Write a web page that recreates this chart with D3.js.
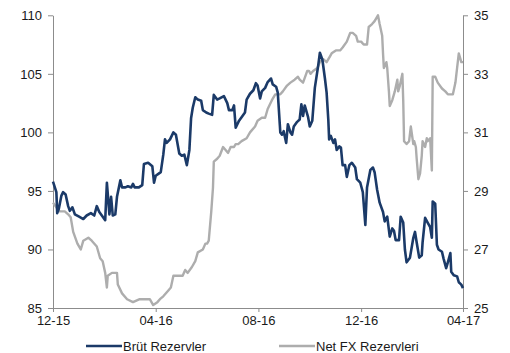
<!DOCTYPE html>
<html>
<head>
<meta charset="utf-8">
<script src="https://cdn.jsdelivr.net/npm/d3@7"></script>
<style>
  html, body { margin: 0; padding: 0; background: #fff; }
  svg { display: block; font-family: "Liberation Sans", Arial, sans-serif; }
</style>
</head>
<body>
<svg id="chart" width="510" height="353"></svg>
<script>
// Brüt rezervler (sol eksen, milyar $)
const brutDates = ["2015-12-01","2015-12-05","2015-12-06","2015-12-08","2015-12-11","2015-12-13","2015-12-16","2015-12-19","2015-12-21","2015-12-24","2015-12-27","2016-01-01","2016-01-06","2016-01-10","2016-01-15","2016-01-19","2016-01-22","2016-01-25","2016-01-28","2016-02-01","2016-02-03","2016-02-06","2016-02-08","2016-02-10","2016-02-13","2016-02-15","2016-02-19","2016-02-21","2016-02-25","2016-02-28","2016-03-03","2016-03-05","2016-03-07","2016-03-12","2016-03-16","2016-03-18","2016-03-23","2016-03-28","2016-03-30","2016-04-01","2016-04-05","2016-04-07","2016-04-10","2016-04-12","2016-04-14","2016-04-18","2016-04-22","2016-04-25","2016-04-29","2016-05-02","2016-05-05","2016-05-08","2016-05-11","2016-05-13","2016-05-15","2016-05-18","2016-05-21","2016-05-25","2016-05-27","2016-05-31","2016-06-03","2016-06-07","2016-06-09","2016-06-13","2016-06-16","2016-06-21","2016-06-25","2016-06-27","2016-07-01","2016-07-03","2016-07-05","2016-07-09","2016-07-12","2016-07-16","2016-07-18","2016-07-22","2016-07-26","2016-07-29","2016-07-31","2016-08-03","2016-08-05","2016-08-09","2016-08-12","2016-08-16","2016-08-18","2016-08-22","2016-08-24","2016-08-27","2016-08-29","2016-08-31","2016-09-03","2016-09-05","2016-09-08","2016-09-10","2016-09-12","2016-09-16","2016-09-19","2016-09-21","2016-09-23","2016-09-25","2016-09-29","2016-10-01","2016-10-04","2016-10-07","2016-10-11","2016-10-13","2016-10-16","2016-10-19","2016-10-21","2016-10-23","2016-10-24","2016-10-26","2016-10-29","2016-10-31","2016-11-02","2016-11-05","2016-11-07","2016-11-09","2016-11-12","2016-11-14","2016-11-17","2016-11-20","2016-11-24","2016-11-26","2016-11-30","2016-12-03","2016-12-06","2016-12-08","2016-12-12","2016-12-15","2016-12-17","2016-12-20","2016-12-23","2016-12-27","2016-12-29","2017-01-01","2017-01-04","2017-01-07","2017-01-09","2017-01-11","2017-01-15","2017-01-17","2017-01-20","2017-01-22","2017-01-24","2017-01-28","2017-02-01","2017-02-03","2017-02-05","2017-02-08","2017-02-11","2017-02-12","2017-02-15","2017-02-18","2017-02-21","2017-02-23","2017-02-24","2017-02-27","2017-03-01","2017-03-03","2017-03-07","2017-03-09","2017-03-12","2017-03-14","2017-03-17","2017-03-18","2017-03-21","2017-03-25","2017-03-27","2017-03-30","2017-04-01"];
const brutValues = [95.8,94.9,93.1,93.5,94.6,94.9,94.7,93.7,93.3,93.6,93.0,92.8,92.6,92.9,93.1,92.9,93.7,93.2,92.9,92.5,95.7,93.0,94.5,92.9,93.0,94.5,95.9,95.3,95.3,95.4,95.3,95.6,95.3,95.3,95.5,97.3,97.4,97.1,95.7,96.3,96.5,96.6,98.1,99.4,99.1,99.4,100.0,99.8,98.2,98.0,98.1,97.2,98.5,101.2,102.1,103.0,102.8,102.7,101.9,101.7,101.6,101.5,103.2,102.8,102.9,103.1,102.5,101.9,101.9,102.3,100.4,101.0,101.3,101.7,102.8,103.3,103.6,104.2,104.0,102.9,103.5,103.8,104.3,104.6,104.1,103.9,103.4,100.0,99.8,100.1,99.1,100.7,100.0,99.8,100.5,100.9,101.1,102.4,101.4,102.3,101.3,100.5,101.0,103.8,105.7,106.8,106.2,104.6,103.4,101.1,99.4,99.7,99.1,99.4,98.5,98.8,98.7,97.2,97.2,96.2,97.2,97.4,97.0,96.0,95.7,94.9,92.1,95.3,96.8,97.0,96.6,95.1,94.0,93.2,92.4,92.8,91.1,91.8,91.6,90.8,90.8,92.8,92.3,90.0,88.9,89.3,91.0,91.5,90.6,89.3,89.5,90.6,92.7,92.3,91.9,91.0,94.1,93.9,90.4,90.0,89.8,89.2,88.4,88.9,89.7,88.1,87.8,87.7,87.2,87.0,86.7];

// Net FX rezervleri (sağ eksen, milyar $)
const netDates = ["2015-12-01","2015-12-06","2015-12-09","2015-12-15","2015-12-19","2015-12-22","2015-12-25","2015-12-30","2016-01-03","2016-01-06","2016-01-12","2016-01-16","2016-01-22","2016-01-26","2016-01-29","2016-02-01","2016-02-03","2016-02-04","2016-02-09","2016-02-15","2016-02-16","2016-02-21","2016-02-27","2016-03-05","2016-03-13","2016-03-22","2016-03-25","2016-03-29","2016-04-03","2016-04-06","2016-04-10","2016-04-16","2016-04-19","2016-04-22","2016-04-27","2016-05-03","2016-05-06","2016-05-09","2016-05-14","2016-05-18","2016-05-21","2016-05-27","2016-05-30","2016-06-01","2016-06-03","2016-06-06","2016-06-08","2016-06-09","2016-06-13","2016-06-16","2016-06-20","2016-06-23","2016-06-26","2016-06-29","2016-07-03","2016-07-05","2016-07-08","2016-07-12","2016-07-18","2016-07-22","2016-07-28","2016-07-31","2016-08-05","2016-08-09","2016-08-12","2016-08-17","2016-08-21","2016-08-27","2016-08-30","2016-09-04","2016-09-08","2016-09-13","2016-09-17","2016-09-19","2016-09-23","2016-09-28","2016-09-30","2016-10-02","2016-10-05","2016-10-10","2016-10-13","2016-10-17","2016-10-21","2016-10-25","2016-10-27","2016-11-01","2016-11-06","2016-11-09","2016-11-14","2016-11-18","2016-11-21","2016-11-25","2016-11-27","2016-12-01","2016-12-04","2016-12-08","2016-12-10","2016-12-14","2016-12-17","2016-12-21","2016-12-23","2016-12-26","2016-12-27","2016-12-28","2016-12-31","2017-01-01","2017-01-03","2017-01-04","2017-01-07","2017-01-10","2017-01-13","2017-01-14","2017-01-16","2017-01-19","2017-01-20","2017-01-21","2017-01-24","2017-01-27","2017-01-29","2017-02-01","2017-02-02","2017-02-04","2017-02-05","2017-02-07","2017-02-09","2017-02-11","2017-02-12","2017-02-15","2017-02-17","2017-02-18","2017-02-21","2017-02-23","2017-02-24","2017-02-27","2017-03-02","2017-03-07","2017-03-11","2017-03-14","2017-03-20","2017-03-23","2017-03-25","2017-03-27","2017-03-30","2017-04-01"];
const netValues = [28.6,28.4,28.3,28.3,28.2,28.1,27.6,27.2,27.0,27.3,27.4,27.3,27.1,26.7,26.6,26.2,25.7,26.1,26.2,26.2,25.8,25.5,25.3,25.2,25.3,25.3,25.3,25.1,25.2,25.3,25.4,25.6,25.7,26.1,26.1,26.1,26.3,26.2,26.4,26.6,26.9,27.0,27.2,27.2,27.3,28.3,29.1,30.0,30.1,30.2,30.5,30.4,30.3,30.5,30.5,30.6,30.6,30.7,30.8,31.0,31.2,31.4,31.5,31.5,31.8,32.1,32.3,32.3,32.4,32.6,32.7,32.8,32.9,32.8,32.7,33.1,33.1,33.0,33.1,33.2,33.4,33.5,33.4,33.6,33.7,33.8,33.8,33.9,34.1,34.4,34.4,34.3,34.1,34.1,34.0,34.0,34.6,34.7,34.8,35.0,34.7,34.3,33.7,33.2,33.4,33.2,32.4,31.9,32.1,32.4,32.8,32.4,32.6,33.0,32.1,30.7,30.6,30.7,31.2,30.6,30.7,30.5,30.1,29.4,29.6,30.2,30.7,30.5,30.8,30.7,30.8,29.7,32.9,32.9,32.7,32.5,32.4,32.3,32.3,32.7,33.2,33.7,33.4,33.4];

const leftTicks = [85, 90, 95, 100, 105, 110];
const rightTicks = [25, 27, 29, 31, 33, 35];
const xTickDates = ["2015-12-01", "2016-04-01", "2016-08-01", "2016-12-01", "2017-04-01"];
const seriesNames = ["Brüt Rezervler", "Net FX Rezervleri"];
const seriesColors = ["#1b3a68", "#adadad"];

const parse = d3.timeParse("%Y-%m-%d");
const brut = brutDates.map((d, i) => ({ date: parse(d), value: brutValues[i] }));
const net = netDates.map((d, i) => ({ date: parse(d), value: netValues[i] }));

const svg = d3.select("#chart");
const margin = { left: 53, right: 47, top: 15.3, bottom: 45 };
const W = 510, H = 353;

const x = d3.scaleTime()
  .domain([parse(xTickDates[0]), parse(xTickDates[xTickDates.length - 1])])
  .range([margin.left, W - margin.right]);
const yL = d3.scaleLinear().domain([85, 110]).range([H - margin.bottom, margin.top]);
const yR = d3.scaleLinear().domain([25, 35]).range([H - margin.bottom, margin.top]);

const axisColor = "#8c8c8c";
function styleAxis(g) {
  g.select(".domain").attr("stroke", axisColor).attr("stroke-width", 1);
  g.selectAll(".tick line").attr("stroke", axisColor).attr("stroke-width", 1);
  g.selectAll(".tick text").attr("fill", "#1a1a1a").attr("font-size", 13);
}

svg.append("g")
  .attr("transform", `translate(${margin.left},0)`)
  .call(d3.axisLeft(yL).tickValues(leftTicks).tickSizeInner(5).tickSizeOuter(0).tickPadding(6))
  .call(styleAxis);

svg.append("g")
  .attr("transform", `translate(${W - margin.right},0)`)
  .call(d3.axisRight(yR).tickValues(rightTicks).tickSizeInner(5).tickSizeOuter(0).tickPadding(6))
  .call(styleAxis);

svg.append("g")
  .attr("transform", `translate(0,${H - margin.bottom})`)
  .call(d3.axisBottom(x).tickValues(xTickDates.map(parse)).tickFormat(d3.timeFormat("%m-%y"))
    .tickSizeInner(4).tickSizeOuter(0).tickPadding(4))
  .call(styleAxis);

const lineL = d3.line().x(d => x(d.date)).y(d => yL(d.value));
const lineR = d3.line().x(d => x(d.date)).y(d => yR(d.value));

svg.append("path").datum(net)
  .attr("fill", "none").attr("stroke", seriesColors[1]).attr("stroke-width", 2.4)
  .attr("stroke-linejoin", "round").attr("d", lineR);

svg.append("path").datum(brut)
  .attr("fill", "none").attr("stroke", seriesColors[0]).attr("stroke-width", 2.6)
  .attr("stroke-linejoin", "round").attr("d", lineL);

// Legend
const legendY = 346;
const legendX = [86, 279];
seriesNames.forEach((name, i) => {
  const g = svg.append("g").attr("transform", `translate(${legendX[i]},${legendY})`);
  g.append("line").attr("x1", 0).attr("x2", 36).attr("y1", 0).attr("y2", 0)
    .attr("stroke", seriesColors[i]).attr("stroke-width", 2.4);
  g.append("text").attr("x", 37).attr("y", 0).attr("dy", "0.35em")
    .attr("font-size", 13).attr("fill", "#1a1a1a").text(name);
});
</script>
</body>
</html>
